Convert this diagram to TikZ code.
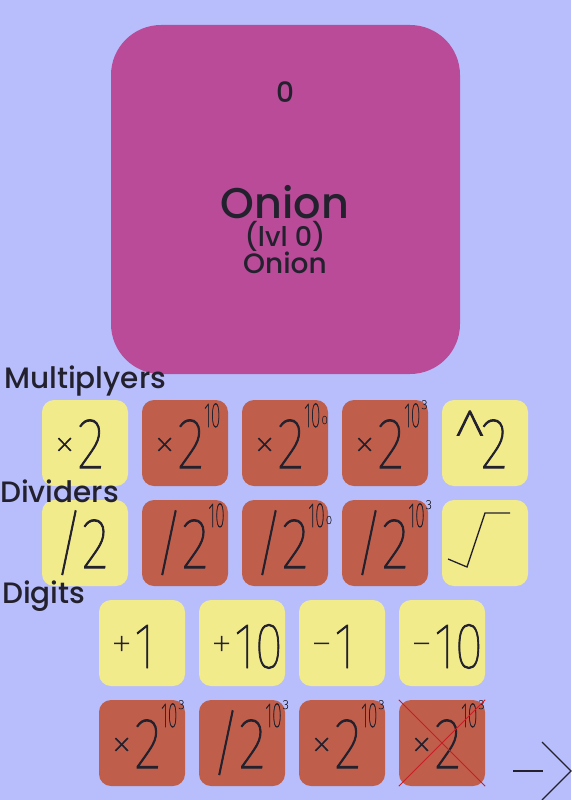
\documentclass[tikz,border=0pt]{standalone}
\usepackage{fontspec}
\IfFontExistsTF{Poppins Medium}{\setmainfont{Poppins}[UprightFont=* Medium]}{\setmainfont{Poppins}}
\IfFontExistsTF{Fira Sans Thin}{\newfontfamily\btnfont{Fira Sans Thin}[FakeBold=1.4]}{%
  \IfFontExistsTF{Fira Sans ExtraLight}{\newfontfamily\btnfont{Fira Sans ExtraLight}}{%
    \IfFontExistsTF{DejaVu Sans ExtraLight}{\newfontfamily\btnfont{DejaVu Sans ExtraLight}}{%
      \IfFontExistsTF{Fira Sans Light}{\newfontfamily\btnfont{Fira Sans Light}}{%
        \newfontfamily\btnfont{Fira Sans}}}}}
\usepackage{graphicx}

\definecolor{bgblue}{RGB}{184,190,251}
\definecolor{cardpink}{RGB}{185,75,152}
\definecolor{padyellow}{RGB}{242,235,140}
\definecolor{padred}{RGB}{190,94,75}
\definecolor{inkdark}{RGB}{35,33,46}
\definecolor{crossred}{RGB}{200,30,40}

% pieces of the button labels (kerns, so nothing breaks)
\newcommand\opsign[1]{\raisebox{10pt}{\fontsize{44}{44}\selectfont #1}\kern2pt}
\newcommand\digs[1]{\scalebox{0.8}[1]{\fontsize{72}{72}\selectfont #1}}
\newcommand\smalldigs[1]{\scalebox{0.8}[1]{\fontsize{65}{65}\selectfont #1}}
\newcommand\caret{\kern-2pt\raisebox{-11pt}{\scalebox{0.95}[1.15]{\fontsize{72}{72}\selectfont\textasciicircum}}\kern-7pt}
\newcommand\tenpow{\raisebox{41pt}{\scalebox{0.5}[1]{\fontsize{35}{35}\selectfont 10}}}
\newcommand\lowo{\kern1pt\raisebox{44pt}{\fontsize{12}{12}\selectfont 0}}
\newcommand\cubed{\kern1pt\raisebox{59pt}{\fontsize{13}{13}\selectfont 3}}

\begin{document}
\begin{tikzpicture}[x=1pt,y=-1pt,
  btn/.style={rounded corners=12pt, minimum width=86pt, minimum height=86pt,
    inner sep=0pt, text width=62pt, align=left, text height=50pt, text depth=0pt,
    text=inkdark, font=\btnfont},
  easy/.style={btn, fill=padyellow},
  hard/.style={btn, fill=padred},
  lbl/.style={anchor=base west, inner sep=0pt, text=inkdark,
    font=\fontsize{29.5}{31}\selectfont},
  glyph/.style={inkdark, line width=1.3pt}]

\path[use as bounding box, fill=bgblue] (0,0) rectangle (571,800);

% the card
\node[fill=cardpink, rounded corners=50pt, minimum width=349pt,
  minimum height=349pt] (card) at (285.5,199.5) {};
\node[anchor=base, inner sep=0pt, text=inkdark, font=\fontsize{28}{30}\selectfont]
  (score) at (285,102) {0};
\node[anchor=base, inner sep=0pt, text=inkdark, font=\fontsize{43}{46}\selectfont]
  (name) at (285,218) {Onion};
\node[anchor=base, inner sep=0pt, text=inkdark, font=\fontsize{27}{29}\selectfont]
  (level) at (285,246) {(lvl 0)};
\node[anchor=base, inner sep=0pt, text=inkdark, font=\fontsize{28}{30}\selectfont]
  (kind) at (285,273) {Onion};

% multiplyers
\node[easy] (m1) at (85,443) {\opsign{×}\digs{2}};
\node[hard] (m2) at (185,443) {\opsign{×}\digs{2}\tenpow};
\node[hard] (m3) at (285,443) {\opsign{×}\digs{2}\tenpow\lowo};
\node[hard] (m4) at (385,443) {\opsign{×}\digs{2}\tenpow\cubed};
\node[easy] (m5) at (485,443) {\caret\digs{2}};

% dividers
\node[easy] (d1) at (85,543) {\digs{/2}};
\node[hard] (d2) at (185,543) {\digs{/2}\tenpow};
\node[hard] (d3) at (285,543) {\digs{/2}\tenpow\lowo};
\node[hard] (d4) at (385,543) {\digs{/2}\tenpow\cubed};
\node[easy] (d5) at (485,543) {};
\draw[glyph] (448,559) -- (467,567) -- (485,513) -- (510,513);

% digits
\node[easy] (g1) at (142,643) {\opsign{+}\smalldigs{1}};
\node[easy] (g2) at (242,643) {\opsign{+}\smalldigs{10}};
\node[easy] (g3) at (342,643) {\opsign{−}\smalldigs{1}};
\node[easy] (g4) at (442,643) {\opsign{−}\smalldigs{10}};

\node[hard] (b1) at (142,743) {\opsign{×}\digs{2}\tenpow\cubed};
\node[hard] (b2) at (242,743) {\digs{/2}\tenpow\cubed};
\node[hard] (b3) at (342,743) {\opsign{×}\digs{2}\tenpow\cubed};
\node[hard] (b4) at (442,743) {\opsign{×}\digs{2}\tenpow\cubed};
\draw[crossred, line width=1pt] (b4.north west) -- (b4.south east);
\draw[crossred, line width=1pt] (b4.south west) -- (b4.north east);

% row labels
\node[lbl] (multlbl) at (4,388) {Multiplyers};
\node[lbl] (divlbl) at (0,502) {Dividers};
\node[lbl] (diglbl) at (2,603) {Digits};

% next
\draw[glyph] (513,771) -- (543,771);
\draw[glyph] (542,742) -- (571,771) -- (542,800);

\end{tikzpicture}
\end{document}
